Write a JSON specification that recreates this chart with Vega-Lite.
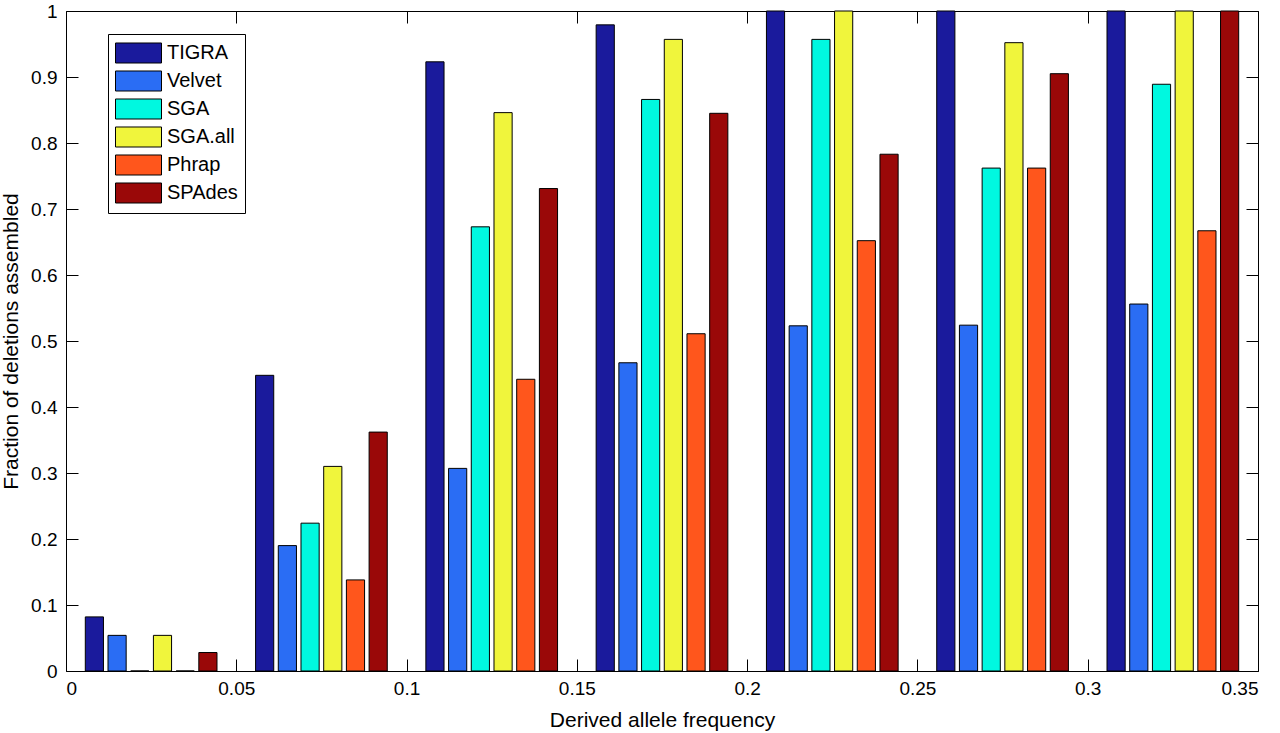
{
  "$schema": "https://vega.github.io/schema/vega-lite/v6.json",
  "description": "Fraction of deletions assembled by derived allele frequency, grouped bars per assembler.",
  "autosize": {"type": "none"},
  "padding": {"left": 66, "top": 11, "right": 22, "bottom": 62},
  "width": 1192,
  "height": 660,
  "background": "white",
  "config": {
    "font": "Liberation Sans",
    "view": {"stroke": "black", "strokeWidth": 1},
    "axis": {
      "labelFont": "Liberation Sans",
      "titleFont": "Liberation Sans",
      "labelColor": "black",
      "titleColor": "black",
      "labelFontSize": 19,
      "titleFontSize": 21,
      "titleFontWeight": "normal",
      "domain": false,
      "grid": false,
      "tickColor": "black",
      "tickWidth": 1,
      "tickSize": -12
    }
  },
  "data": {
    "values": [
      {"freq": 0.025, "method": "TIGRA", "fraction": 0.082},
      {"freq": 0.025, "method": "Velvet", "fraction": 0.054},
      {"freq": 0.025, "method": "SGA", "fraction": 0},
      {"freq": 0.025, "method": "SGA.all", "fraction": 0.054},
      {"freq": 0.025, "method": "Phrap", "fraction": 0},
      {"freq": 0.025, "method": "SPAdes", "fraction": 0.028},
      {"freq": 0.075, "method": "TIGRA", "fraction": 0.448},
      {"freq": 0.075, "method": "Velvet", "fraction": 0.19},
      {"freq": 0.075, "method": "SGA", "fraction": 0.224},
      {"freq": 0.075, "method": "SGA.all", "fraction": 0.31},
      {"freq": 0.075, "method": "Phrap", "fraction": 0.138},
      {"freq": 0.075, "method": "SPAdes", "fraction": 0.362},
      {"freq": 0.125, "method": "TIGRA", "fraction": 0.923},
      {"freq": 0.125, "method": "Velvet", "fraction": 0.307},
      {"freq": 0.125, "method": "SGA", "fraction": 0.673},
      {"freq": 0.125, "method": "SGA.all", "fraction": 0.846},
      {"freq": 0.125, "method": "Phrap", "fraction": 0.442},
      {"freq": 0.125, "method": "SPAdes", "fraction": 0.731},
      {"freq": 0.175, "method": "TIGRA", "fraction": 0.979},
      {"freq": 0.175, "method": "Velvet", "fraction": 0.467},
      {"freq": 0.175, "method": "SGA", "fraction": 0.866},
      {"freq": 0.175, "method": "SGA.all", "fraction": 0.957},
      {"freq": 0.175, "method": "Phrap", "fraction": 0.511},
      {"freq": 0.175, "method": "SPAdes", "fraction": 0.845},
      {"freq": 0.225, "method": "TIGRA", "fraction": 1},
      {"freq": 0.225, "method": "Velvet", "fraction": 0.523},
      {"freq": 0.225, "method": "SGA", "fraction": 0.957},
      {"freq": 0.225, "method": "SGA.all", "fraction": 1},
      {"freq": 0.225, "method": "Phrap", "fraction": 0.652},
      {"freq": 0.225, "method": "SPAdes", "fraction": 0.783},
      {"freq": 0.275, "method": "TIGRA", "fraction": 1},
      {"freq": 0.275, "method": "Velvet", "fraction": 0.524},
      {"freq": 0.275, "method": "SGA", "fraction": 0.762},
      {"freq": 0.275, "method": "SGA.all", "fraction": 0.952},
      {"freq": 0.275, "method": "Phrap", "fraction": 0.762},
      {"freq": 0.275, "method": "SPAdes", "fraction": 0.905},
      {"freq": 0.325, "method": "TIGRA", "fraction": 1},
      {"freq": 0.325, "method": "Velvet", "fraction": 0.556},
      {"freq": 0.325, "method": "SGA", "fraction": 0.889},
      {"freq": 0.325, "method": "SGA.all", "fraction": 1},
      {"freq": 0.325, "method": "Phrap", "fraction": 0.667},
      {"freq": 0.325, "method": "SPAdes", "fraction": 1}
    ]
  },
  "layer": [
    {
      "mark": {"type": "bar", "stroke": "black", "strokeWidth": 1, "opacity": 1},
      "encoding": {
        "x": {
          "field": "freq",
          "type": "ordinal",
          "scale": {"paddingInner": 0, "paddingOuter": 0},
          "axis": null
        },
        "xOffset": {
          "field": "method",
          "type": "nominal",
          "sort": ["TIGRA", "Velvet", "SGA", "SGA.all", "Phrap", "SPAdes"],
          "scale": {"paddingInner": 0.2, "paddingOuter": 0.85}
        },
        "y": {
          "field": "fraction",
          "type": "quantitative",
          "scale": {"domain": [0, 1], "nice": false},
          "axis": {
            "orient": "left",
            "title": "Fraction of deletions assembled",
            "values": [0, 0.1, 0.2, 0.3, 0.4, 0.5, 0.6, 0.7, 0.8, 0.9, 1],
            "format": "~g",
            "labelPadding": 21,
            "titlePadding": 9
          }
        },
        "color": {
          "field": "method",
          "type": "nominal",
          "sort": ["TIGRA", "Velvet", "SGA", "SGA.all", "Phrap", "SPAdes"],
          "scale": {
            "domain": ["TIGRA", "Velvet", "SGA", "SGA.all", "Phrap", "SPAdes"],
            "range": ["#1a1a9c", "#2a6df4", "#00f8e0", "#f0f53c", "#ff561c", "#9a0808"]
          },
          "legend": {
            "title": null,
            "orient": "none",
            "legendX": 42,
            "legendY": 23,
            "direction": "vertical",
            "fillColor": "white",
            "strokeColor": "black",
            "padding": 7,
            "symbolType": "M-1,-0.87H3V0.87H-1Z",
            "symbolSize": 529,
            "symbolStrokeColor": "black",
            "symbolStrokeWidth": 1,
            "symbolOpacity": 1,
            "labelFont": "Liberation Sans",
            "labelFontSize": 20,
            "labelColor": "black",
            "labelOffset": 28,
            "rowPadding": 2
          }
        }
      }
    },
    {
      "mark": {"type": "point", "opacity": 0},
      "encoding": {
        "x": {
          "field": "freq",
          "type": "quantitative",
          "scale": {"domain": [0, 0.35], "nice": false, "zero": false},
          "axis": {
            "orient": "bottom",
            "title": "Derived allele frequency",
            "values": [0, 0.05, 0.1, 0.15, 0.2, 0.25, 0.3, 0.35],
            "format": "~g",
            "labelPadding": 20,
            "titlePadding": 11
          }
        },
        "y": {
          "field": "fraction",
          "type": "quantitative",
          "axis": {
            "orient": "right",
            "title": null,
            "labels": false,
            "values": [0, 0.1, 0.2, 0.3, 0.4, 0.5, 0.6, 0.7, 0.8, 0.9, 1]
          }
        }
      }
    },
    {
      "mark": {"type": "point", "opacity": 0},
      "encoding": {
        "x": {
          "field": "freq",
          "type": "quantitative",
          "scale": {"domain": [0, 0.35], "nice": false, "zero": false},
          "axis": {
            "orient": "top",
            "title": null,
            "labels": false,
            "values": [0, 0.05, 0.1, 0.15, 0.2, 0.25, 0.3, 0.35]
          }
        }
      }
    }
  ],
  "resolve": {
    "scale": {"x": "independent"},
    "axis": {"x": "independent", "y": "independent"}
  }
}
